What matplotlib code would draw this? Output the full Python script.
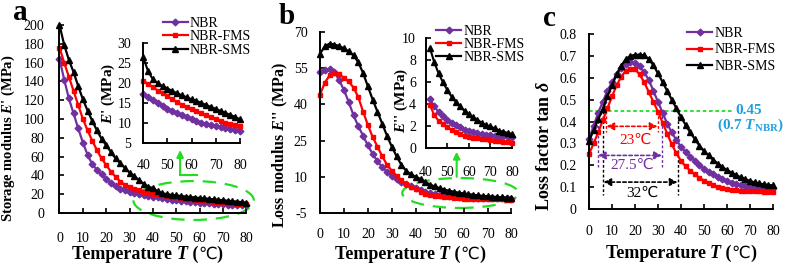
import matplotlib
matplotlib.use("Agg")
import matplotlib.pyplot as plt
from matplotlib.patches import Ellipse
from matplotlib.offsetbox import TextArea, HPacker, AnchoredOffsetbox

plt.rcParams['font.family'] = ['Liberation Serif', 'DejaVu Sans']
plt.rcParams['mathtext.fontset'] = 'custom'
plt.rcParams['mathtext.rm'] = 'Liberation Serif:bold'
plt.rcParams['mathtext.it'] = 'Liberation Serif:italic:bold'
plt.rcParams['mathtext.bf'] = 'Liberation Serif:bold'
plt.rcParams['axes.unicode_minus'] = False

# temperature (degC), one point every 2 degrees
temp = list(range(0, 81, 2))

# a: storage modulus E' (MPa)
storage_nbr = [164, 142, 122, 106, 90, 75, 62, 52, 46, 41, 36, 32, 28.5, 26, 24, 22.5, 21, 20, 19, 18, 17.4,
               16.6, 15.8, 15, 14.3, 13.6, 13, 12.5, 12, 11.5, 11, 10.6, 10.2, 9.9, 9.6, 9.3, 9, 8.8, 8.5, 8.3, 8.1]
storage_fms = [176, 160, 145, 130, 115, 100, 88, 77, 67, 58, 51, 44, 38.5, 33.5, 30, 27.5, 25.5, 24, 22.8, 21.7, 20.7,
               19.8, 19, 18.2, 17.5, 16.8, 16, 15.3, 14.7, 14.1, 13.5, 13, 12.5, 12, 11.5, 11, 10.6, 10.2, 9.9, 9.6, 9.3]
storage_sms = [200, 179, 163, 150, 135, 121, 109, 98, 88, 79, 72, 65, 58, 53, 48, 43, 39, 35, 31, 28, 26.5,
               23, 21, 20, 19.3, 18.7, 18.1, 17.5, 17, 16.5, 16, 15.6, 15.1, 14.6, 14.1, 13.6, 13.1, 12.6, 12.1, 11.6, 11]

# b: loss modulus E'' (MPa)
loss_nbr = [53.5, 54.2, 54.6, 53.5, 50, 46, 41, 35.5, 31, 27, 23, 19.5, 16.5, 14, 12, 10.5, 9.2, 8, 7, 6, 5.2,
            4.5, 3.8, 3.3, 2.9, 2.6, 2.3, 2.1, 1.9, 1.7, 1.6, 1.5, 1.4, 1.3, 1.25, 1.2, 1.15, 1.1, 1.1, 1.05, 1.0]
loss_fms = [44, 49, 52, 53, 52.5, 51, 49.5, 47, 43, 37, 31.5, 26.5, 22.5, 18.5, 15, 12.5, 10.5, 8.5, 7, 5.8, 4.8,
            3.9, 3.0, 2.5, 2.2, 1.9, 1.7, 1.5, 1.3, 1.15, 1.0, 0.95, 0.9, 0.85, 0.8, 0.75, 0.7, 0.65, 0.6, 0.55, 0.5]
loss_sms = [61, 64, 65.2, 64.8, 64.2, 63.2, 62, 60.3, 57.5, 53, 47.5, 42, 37, 32, 27, 22.5, 18.5, 15, 12.5, 11, 10,
            9.1, 7.8, 6.8, 6.0, 5.3, 4.7, 4.2, 3.8, 3.4, 3.1, 2.8, 2.6, 2.3, 2.1, 2.0, 1.8, 1.6, 1.5, 1.4, 1.3]

# c: loss factor tan delta
tan_nbr = [0.32, 0.38, 0.44, 0.49, 0.54, 0.58, 0.615, 0.645, 0.665, 0.672, 0.668, 0.652, 0.625, 0.59, 0.54,
           0.49, 0.44, 0.39, 0.35, 0.315, 0.285, 0.26, 0.24, 0.22, 0.2, 0.185, 0.17, 0.158, 0.146, 0.136,
           0.127, 0.12, 0.114, 0.109, 0.105, 0.102, 0.1, 0.098, 0.096, 0.095, 0.094]
tan_fms = [0.25, 0.3, 0.35, 0.405, 0.46, 0.515, 0.565, 0.605, 0.632, 0.642, 0.64, 0.615, 0.58, 0.535, 0.49,
           0.445, 0.395, 0.345, 0.295, 0.255, 0.22, 0.195, 0.175, 0.158, 0.143, 0.13, 0.118, 0.108, 0.1, 0.094,
           0.09, 0.087, 0.085, 0.084, 0.083, 0.082, 0.082, 0.081, 0.08, 0.08, 0.079]
tan_sms = [0.31, 0.36, 0.41, 0.455, 0.515, 0.565, 0.615, 0.655, 0.685, 0.7, 0.705, 0.706, 0.702, 0.686, 0.657,
           0.62, 0.58, 0.54, 0.5, 0.46, 0.42, 0.385, 0.35, 0.32, 0.29, 0.265, 0.245, 0.225, 0.208, 0.192,
           0.178, 0.166, 0.155, 0.145, 0.136, 0.128, 0.122, 0.117, 0.113, 0.11, 0.108]

labels = ['NBR', 'NBR-FMS', 'NBR-SMS']
colors = ['#7030A0', '#FF0000', '#000000']
markers = ['D', 's', '^']
msizes = [3.4, 3.5, 4.4]

# half-width annotations of panel c (start, end, arrow height, text)
band_start = [3.9, 7.6, 6.3]
band_end = [31.7, 29.8, 38.5]
band_y = [0.245, 0.378, 0.123]
band_low = [0.19, 0.35, 0.065]
band_text = ['27.5℃', '23℃', '32℃']
band_text_x = [19, 20.4, 23]
band_text_y = [0.2, 0.315, 0.073]

GREEN = '#22DD22'
BLUE = '#1EA0E0'


def style_axis(ax, xpad, ypad):
    ax.spines['top'].set_visible(False)
    ax.spines['right'].set_visible(False)
    ax.spines['left'].set_linewidth(1.4)
    ax.spines['bottom'].set_linewidth(1.4)
    ax.tick_params(direction='in', length=3.5, width=1.2, labelsize=10)
    ax.tick_params(axis='x', pad=xpad)
    ax.tick_params(axis='y', pad=ypad)
    ax.set_facecolor('none')


def temp_label(ax, x, y):
    # "Temperature T (℃)" with an italic T, built from plain text pieces
    props = dict(fontsize=13, fontweight='bold')
    parts = [TextArea('Temperature ', textprops=props),
             TextArea('T', textprops=dict(props, fontstyle='italic')),
             TextArea(' (', textprops=props),
             TextArea('℃', textprops=dict(fontsize=12)),
             TextArea(')', textprops=props)]
    box = HPacker(children=parts, pad=0, sep=0, align='baseline')
    ax.add_artist(AnchoredOffsetbox(loc='upper center', child=box, pad=0, borderpad=0, frameon=False,
                                    bbox_to_anchor=(x, y), bbox_transform=ax.transAxes))


def draw_series(ax, x, series, lw=1.6):
    for y, lab, c, m, ms in zip(series, labels, colors, markers, msizes):
        ax.plot(x, y, color=c, marker=m, markersize=ms, lw=lw, label=lab, clip_on=False)


def add_legend(ax, anchor, spacing):
    ax.legend(loc='upper left', bbox_to_anchor=anchor, frameon=False, fontsize=10,
              borderpad=0, borderaxespad=0, labelspacing=spacing, handlelength=1.8,
              handletextpad=0.15)


fig = plt.figure(figsize=(7.87, 2.67), dpi=100)

# ---------------- a ----------------
ax_a = fig.add_axes([0.0756, 0.2022, 0.2376, 0.7041])
draw_series(ax_a, temp, [storage_nbr, storage_fms, storage_sms])
ax_a.set_xlim(0, 80)
ax_a.set_ylim(0, 200)
ax_a.set_xticks(range(0, 81, 10))
ax_a.set_yticks(range(0, 201, 20))
style_axis(ax_a, 14, 11)
temp_label(ax_a, 0.47, -0.175)
ax_a.set_ylabel("Storage modulus $E$' (MPa)", fontsize=10.5, fontweight='bold')
ax_a.yaxis.set_label_coords(-0.225, 0.40)
add_legend(ax_a, (0.553, 1.045), 0.05)
ax_a.add_patch(Ellipse((57.4, 13.3), 51.5, 41.4, fill=False, edgecolor=GREEN, lw=1.6,
                       linestyle=(0, (6, 4)), clip_on=False))
ax_a.plot([58.9, 51.6], [40.4, 40.4], color=GREEN, lw=1.5, clip_on=False)
ax_a.annotate('', xy=(51.6, 67), xytext=(51.6, 40.4),
              arrowprops=dict(arrowstyle='-|>', color=GREEN, lw=1.5, mutation_scale=10, shrinkA=0, shrinkB=0),
              annotation_clip=False)
fig.text(0.026, 0.955, 'a', fontsize=21, fontweight='bold', ha='center', va='center')

ins_a = fig.add_axes([0.182, 0.4633, 0.1229, 0.3745])
draw_series(ins_a, temp[20:], [storage_nbr[20:], storage_fms[20:], storage_sms[20:]], lw=1.5)
ins_a.set_xlim(40, 80)
ins_a.set_ylim(5, 30)
ins_a.set_xticks(range(40, 81, 10))
ins_a.set_yticks(range(5, 31, 5))
style_axis(ins_a, 11, 8.5)
ins_a.set_ylabel("$E$' (MPa)", fontsize=11, fontweight='bold')
ins_a.yaxis.set_label_coords(-0.272, 0.5)

# ---------------- b ----------------
ax_b = fig.add_axes([0.4066, 0.2022, 0.2433, 0.6779])
draw_series(ax_b, temp, [loss_nbr, loss_fms, loss_sms])
ax_b.set_xlim(0, 80)
ax_b.set_ylim(-5, 70)
ax_b.set_xticks(range(0, 81, 10))
ax_b.set_yticks(range(-5, 71, 15))
style_axis(ax_b, 11, 9)
temp_label(ax_b, 0.47, -0.18)
ax_b.set_ylabel("Loss modulus $E$'' (MPa)", fontsize=11.5, fontweight='bold')
ax_b.yaxis.set_label_coords(-0.157, 0.376)
add_legend(ax_b, (0.606, 1.04), 0.0)
ax_b.add_patch(Ellipse((58.6, 3.3), 48.5, 12.4, fill=False, edgecolor=GREEN, lw=1.6,
                       linestyle=(0, (6, 4)), clip_on=False))
ax_b.annotate('', xy=(57.1, 20.4), xytext=(57.1, 10.0),
              arrowprops=dict(arrowstyle='-|>', color=GREEN, lw=1.5, mutation_scale=10, shrinkA=0, shrinkB=0),
              annotation_clip=False)
fig.text(0.364, 0.94, 'b', fontsize=21, fontweight='bold', ha='center', va='center')

ins_b = fig.add_axes([0.5409, 0.4446, 0.1097, 0.412])
draw_series(ins_b, temp[21:], [loss_nbr[21:], loss_fms[21:], loss_sms[21:]], lw=1.5)
ins_b.set_xlim(40, 80)
ins_b.set_ylim(0, 10)
ins_b.set_xticks(range(40, 81, 10))
ins_b.set_yticks(range(0, 11, 2))
style_axis(ins_b, 13, 7)
ins_b.set_ylabel("$E$'' (MPa)", fontsize=11, fontweight='bold')
ins_b.yaxis.set_label_coords(-0.18, 0.44)

# ---------------- c ----------------
ax_c = fig.add_axes([0.7484, 0.2172, 0.2338, 0.6554])
draw_series(ax_c, temp, [tan_nbr, tan_fms, tan_sms])
ax_c.set_xlim(0, 80)
ax_c.set_ylim(0, 0.8)
ax_c.set_xticks(range(0, 81, 10))
yt = [i / 10 for i in range(9)]
ax_c.set_yticks(yt)
ax_c.set_yticklabels([f'{v:g}' for v in yt])
style_axis(ax_c, 11.5, 9)
temp_label(ax_c, 0.5, -0.205)
ax_c.set_ylabel(r'Loss factor tan $\delta$', fontsize=13, fontweight='bold')
ax_c.yaxis.set_label_coords(-0.196, 0.36)
add_legend(ax_c, (0.533, 1.04), 0.25)

ax_c.plot([0, 62.6], [0.45, 0.45], color=GREEN, lw=1.3, linestyle=(0, (2, 1.5)), zorder=1)
ax_c.text(69.6, 0.452, '0.45', color=BLUE, fontsize=11, fontweight='bold', ha='center', va='center')
ax_c.text(70, 0.384, r'(0.7 $T$$_{\rm NBR}$)', color=BLUE, fontsize=11, fontweight='bold',
          ha='center', va='center')
for x0, x1, yy, ylow, txt, tx, ty, c in zip(band_start, band_end, band_y, band_low, band_text,
                                             band_text_x, band_text_y, colors):
    for xv in (x0, x1):
        ax_c.plot([xv, xv], [0.45, ylow], color=c, lw=1.0, linestyle=(0, (2, 1.5)), zorder=1)
    ax_c.annotate('', xy=(x1, yy), xytext=(x0, yy),
                  arrowprops=dict(arrowstyle='<|-|>', color=c, lw=1.2, linestyle=(0, (2, 1.5)),
                                  mutation_scale=11, shrinkA=0, shrinkB=0))
    ax_c.text(tx, ty, txt, color=c, fontsize=11, ha='center', va='center')
fig.text(0.698, 0.93, 'c', fontsize=21, fontweight='bold', ha='center', va='center')

fig.savefig('out.png', dpi=100)
